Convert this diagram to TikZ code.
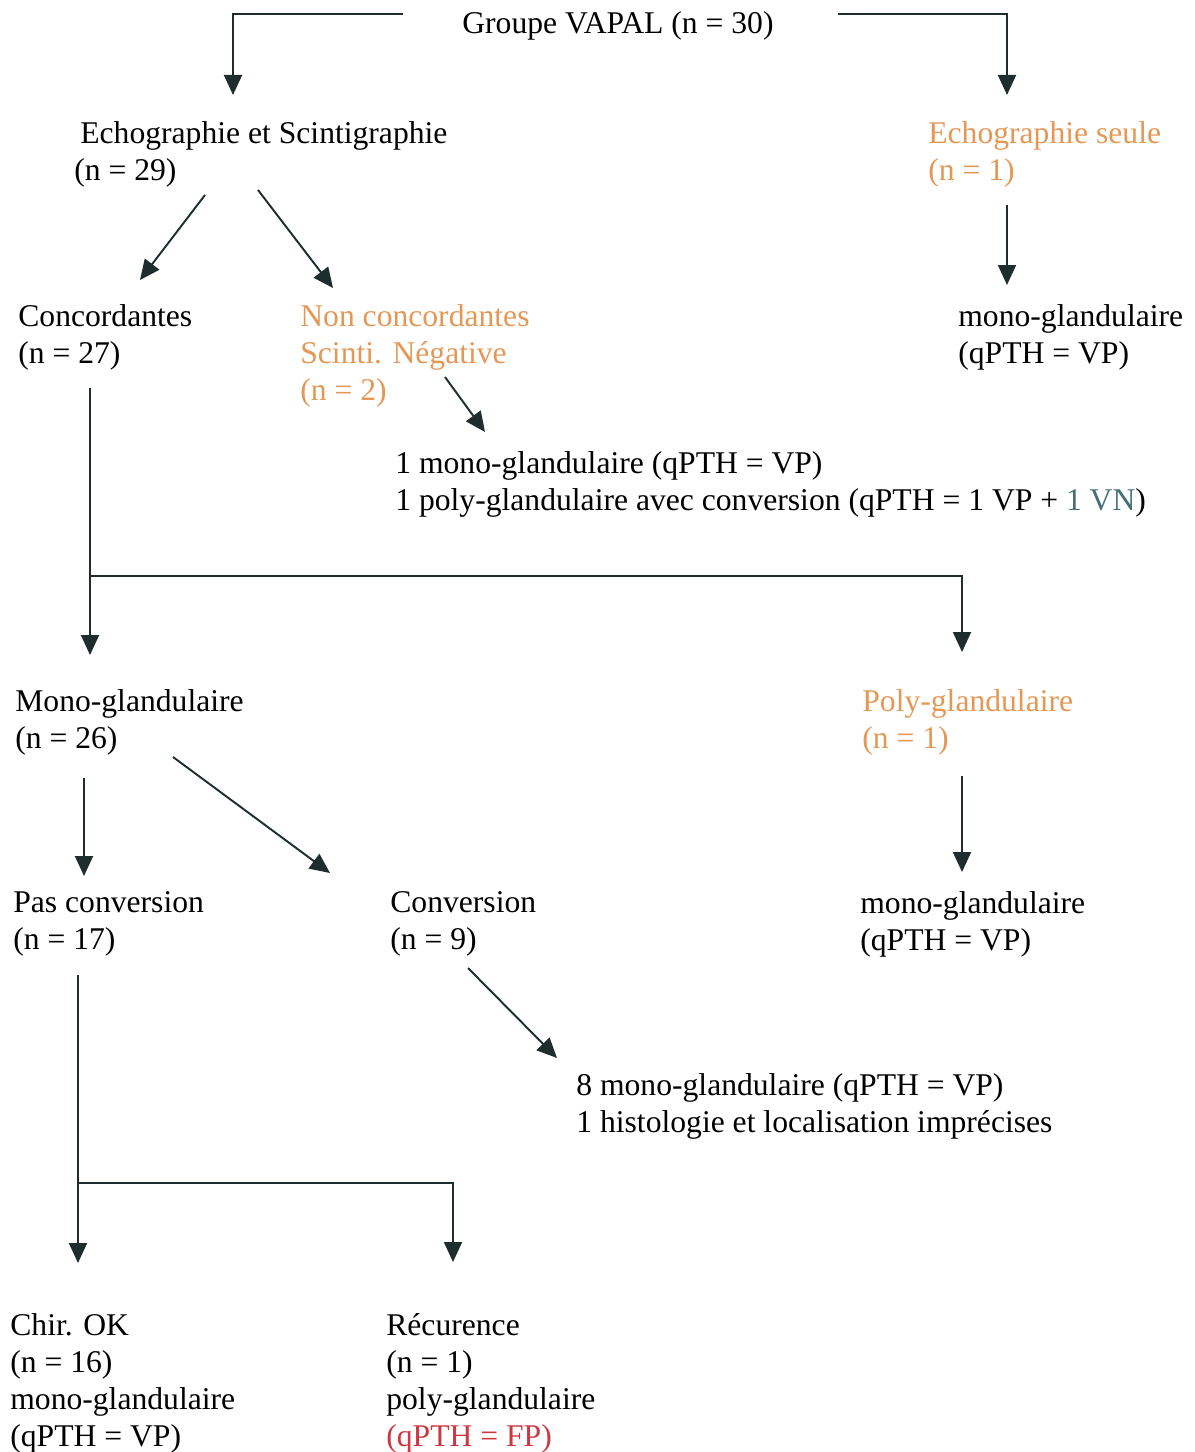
\documentclass[tikz,border=0pt]{standalone}
\usepackage{fontspec}
\setmainfont{Liberation Serif}
\usetikzlibrary{arrows.meta}
\definecolor{vorange}{RGB}{228,152,86}
\definecolor{vred}{RGB}{205,55,65}
\definecolor{vteal}{RGB}{70,110,120}
\definecolor{lineclr}{RGB}{30,45,45}

\begin{document}
\begin{tikzpicture}[x=0.02cm, y=-0.02cm,
  every node/.style={anchor=north west, inner sep=0pt, align=left, font=\fontsize{18}{21}\selectfont},
  arr/.style={draw=lineclr, line width=1.1pt, -{Triangle[width=0.36cm,length=0.4cm]}},
  ln/.style={draw=lineclr, line width=1.1pt}]
  \useasboundingbox (0,0) rectangle (1195,1452);

  % texts
  \node (vapal) at (462,11) {Groupe VAPAL (n = 30)};
  \node (echscint) at (80,121) {Echographie et Scintigraphie\\\hspace*{-0.12cm}(n = 29)};
  \node [text=vorange] (echseule) at (928,121) {Echographie seule\\(n = 1)};
  \node (concord) at (18,304) {Concordantes\\(n = 27)};
  \node [text=vorange] (nonconc) at (300,304) {Non concordantes\\Scinti. Négative\\(n = 2)};
  \node (monoA) at (958,304) {mono-glandulaire\\(qPTH = VP)};
  \node (resnc) at (395,451) {1 mono-glandulaire (qPTH = VP)\\1 poly-glandulaire avec conversion (qPTH = 1 VP + \textcolor{vteal}{1 VN})};
  \node (mono) at (15,689) {Mono-glandulaire\\(n = 26)};
  \node [text=vorange] (poly) at (862,689) {Poly-glandulaire\\(n = 1)};
  \node (pasconv) at (13,891) {Pas conversion\\(n = 17)};
  \node (conv) at (390,891) {Conversion\\(n = 9)};
  \node (monoB) at (860,891) {mono-glandulaire\\(qPTH = VP)};
  \node (resconv) at (576,1073) {8 mono-glandulaire (qPTH = VP)\\1 histologie et localisation imprécises};
  \node (chir) at (10,1313) {Chir. OK\\(n = 16)\\mono-glandulaire\\(qPTH = VP)};
  \node (recur) at (386,1313) {Récurence\\(n = 1)\\poly-glandulaire\\\textcolor{vred}{(qPTH = FP)}};

  % connector ends
  \coordinate (vapalL) at (403,14);
  \coordinate (vapalR) at (838,14);
  \coordinate (echscintIn) at (233,95);
  \coordinate (echseuleIn) at (1007,95);
  \coordinate (echscintOutA) at (205,195);
  \coordinate (echscintOutB) at (258,190);
  \coordinate (concordIn) at (140,280);
  \coordinate (nonconcIn) at (333,288);
  \coordinate (echseuleOut) at (1007,205);
  \coordinate (monoAIn) at (1007,285);
  \coordinate (nonconcOut) at (445,377);
  \coordinate (resncIn) at (485,432);
  \coordinate (concordOut) at (90,388);
  \coordinate (split) at (90,576);
  \coordinate (monoIn) at (90,655);
  \coordinate (polyIn) at (962,652);
  \coordinate (monoOutA) at (84,778);
  \coordinate (pasconvIn) at (84,876);
  \coordinate (monoOutB) at (173,757);
  \coordinate (convIn) at (330,873);
  \coordinate (polyOut) at (962,776);
  \coordinate (monoBIn) at (962,872);
  \coordinate (pasconvOut) at (78,975);
  \coordinate (chirIn) at (78,1263);
  \coordinate (splitB) at (78,1183);
  \coordinate (recurIn) at (453,1262);
  \coordinate (convOut) at (468,968);
  \coordinate (resconvIn) at (557,1058);

  % connectors
  \draw [arr] (vapalL) -| (echscintIn);
  \draw [arr] (vapalR) -| (echseuleIn);
  \draw [arr] (echscintOutA) -- (concordIn);
  \draw [arr] (echscintOutB) -- (nonconcIn);
  \draw [arr] (echseuleOut) -- (monoAIn);
  \draw [arr] (nonconcOut) -- (resncIn);
  \draw [arr] (concordOut) -- (monoIn);
  \draw [arr] (split) -| (polyIn);
  \draw [arr] (monoOutA) -- (pasconvIn);
  \draw [arr] (monoOutB) -- (convIn);
  \draw [arr] (polyOut) -- (monoBIn);
  \draw [arr] (pasconvOut) -- (chirIn);
  \draw [arr] (splitB) -| (recurIn);
  \draw [arr] (convOut) -- (resconvIn);
\end{tikzpicture}
\end{document}
